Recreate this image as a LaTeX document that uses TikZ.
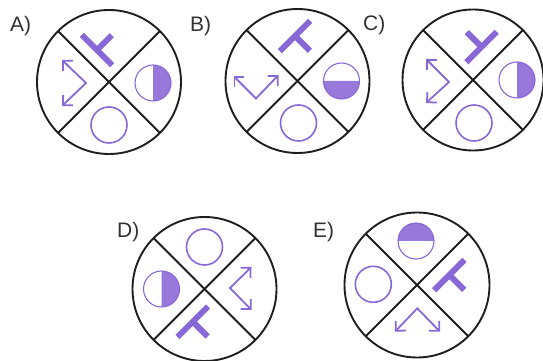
\documentclass[tikz,border=0pt]{standalone}
\usepackage{fontspec}
\setmainfont{Liberation Sans}
\usetikzlibrary{arrows.meta,calc}
\definecolor{pur}{RGB}{136,104,214}
\definecolor{purfill}{RGB}{152,120,218}
\definecolor{ink}{RGB}{30,30,30}
\definecolor{lab}{RGB}{50,50,50}
\tikzset{
  rim/.style={draw=ink, line width=1.9pt},
  tbar/.style={draw=pur, line width=6pt},
  ring/.style={draw=pur, line width=1.6pt},
  hring/.style={draw=pur, line width=1.1pt},
  hfill/.style={fill=purfill},
  chev/.style={draw=pur, line width=1.8pt, line join=miter,
    {Straight Barb[length=7pt,width=14pt]}-{Straight Barb[length=7pt,width=14pt]}},
  lbl/.style={font=\fontsize{21}{21}\selectfont, text=lab, inner sep=0pt, anchor=base west},
}
\newcommand\dial[3]{%
  \coordinate (#1) at (#2);
  \draw[rim] (#1) circle[radius=#3];
  \draw[rim] ($(#1)+(45:#3)$) -- ($(#1)+(225:#3)$);
  \draw[rim] ($(#1)+(135:#3)$) -- ($(#1)+(315:#3)$);
}
\newcommand\Tmark[3]{%
  \draw[tbar] (#1) ++(#2:21.5pt) -- ++(#2+180:43pt);
  \draw[tbar] (#1) -- ++(#3:21pt);
}
\newcommand\halfc[2]{%
  \fill[hfill] (#1) ++(#2:18pt) arc[start angle=#2, delta angle=180, radius=18pt] -- cycle;
  \draw[hring] (#1) circle[radius=18pt];
}
\begin{document}
\begin{tikzpicture}[x=1pt,y=1pt]
\useasboundingbox (0,0) rectangle (543,361);
% labels
\node[lbl] (la) at (10,329) {A)};
\node[lbl] (lb) at (190,329) {B)};
\node[lbl] (lc) at (363,330) {C)};
\node[lbl] (ld) at (117,123) {D)};
\node[lbl] (le) at (313,123) {E)};
% A
\dial{A}{109,279}{72pt}
\begin{scope}[shift={(A)}]
  \Tmark{-12,32}{-45}{45}
  \halfc{44,-1}{-90}
  \draw[ring] (0,-43) circle[radius=18pt];
  \draw[chev] (-47,22) -- (-23,-1) -- (-47,-24);
\end{scope}
% B
\dial{B}{297.5,280}{72pt}
\begin{scope}[shift={(B)}]
  \Tmark{-2.5,45}{45}{-45}
  \halfc{44,0}{180}
  \draw[ring] (1,-42) circle[radius=18pt];
  \draw[chev] (-64,5) -- (-41.5,-17.5) -- (-19,6);
\end{scope}
% C
\dial{C}{473,281}{70.5pt}
\begin{scope}[shift={(C)}]
  \Tmark{8.5,33}{45}{135}
  \halfc{44,0}{-90}
  \draw[ring] (1,-43) circle[radius=18pt];
  \draw[chev] (-47,21) -- (-24,-2) -- (-47,-23);
\end{scope}
% D
\dial{D}{204.5,72}{72pt}
\begin{scope}[shift={(D)}]
  \draw[ring] (0,42) circle[radius=18pt];
  \halfc{-43,0}{-90}
  \draw[chev] (47,22) -- (25.5,1) -- (47,-21);
  \Tmark{-11.7,-32.7}{45}{-45}
\end{scope}
% E
\dial{E}{417,76}{72.5pt}
\begin{scope}[shift={(E)}]
  \halfc{-1,44}{0}
  \draw[ring] (-43.7,0.7) circle[radius=18pt];
  \Tmark{32.3,10}{45}{-45}
  \draw[chev] (-22,-46.7) -- (0.3,-23.3) -- (23,-46.7);
\end{scope}
\end{tikzpicture}
\end{document}
